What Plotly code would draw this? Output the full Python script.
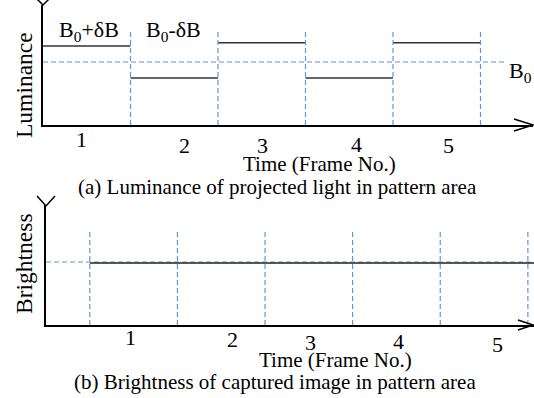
import plotly.graph_objects as go

# ---------------- data ----------------
frames = [1, 2, 3, 4, 5]
frame_labels = ["1", "2", "3", "4", "5"]
# (a) projected luminance per frame (normalised axis units)
lum_levels = [0.658, 0.392, 0.686, 0.392, 0.686]
lum_base = 0.525            # B0
lum_boundaries = [1, 2, 3, 4, 5]
# (b) captured brightness
bri_level = 0.517
bri_base = 0.525
bri_boundaries = [0.5, 1.5, 2.5, 3.5, 4.5, 5.5]

W, H = 534, 398
FONT = "Liberation Serif"
BLUE = "#5B9BD5"
DASH = "5px,3px"

def px(x):
    return x / W

def py(y):
    return 1 - y / H

fig = go.Figure()

# ---- panel (a) ----
for i, lv in enumerate(lum_levels):
    fig.add_trace(go.Scatter(x=[frames[i] - 1, frames[i]], y=[lv, lv], mode="lines",
                             line=dict(color="#333333", width=1.6), xaxis="x", yaxis="y",
                             showlegend=False, hoverinfo="skip"))
for b in lum_boundaries:
    fig.add_trace(go.Scatter(x=[b, b], y=[0, 0.79], mode="lines",
                             line=dict(color=BLUE, width=1.2, dash=DASH), xaxis="x", yaxis="y",
                             showlegend=False, hoverinfo="skip"))
fig.add_trace(go.Scatter(x=[0, 5.27], y=[lum_base, lum_base], mode="lines",
                         line=dict(color=BLUE, width=1.2, dash=DASH), xaxis="x", yaxis="y",
                         showlegend=False, hoverinfo="skip"))

# ---- panel (b) ----
for b in bri_boundaries:
    fig.add_trace(go.Scatter(x=[b, b], y=[0, 0.8], mode="lines",
                             line=dict(color=BLUE, width=1.2, dash=DASH), xaxis="x2", yaxis="y2",
                             showlegend=False, hoverinfo="skip"))
fig.add_trace(go.Scatter(x=[0, 5.53], y=[bri_base, bri_base], mode="lines",
                         line=dict(color=BLUE, width=1.2, dash=DASH), xaxis="x2", yaxis="y2",
                         showlegend=False, hoverinfo="skip"))
fig.add_trace(go.Scatter(x=[bri_boundaries[0], 5.57], y=[bri_level, bri_level], mode="lines",
                         line=dict(color="#222222", width=1.4), xaxis="x2", yaxis="y2",
                         showlegend=False, hoverinfo="skip"))

axis_common = dict(showgrid=False, zeroline=False, showticklabels=False, ticks="",
                   showline=True, linecolor="black")

fig.update_layout(
    width=W, height=H, autosize=False,
    margin=dict(l=0, r=0, t=0, b=0),
    paper_bgcolor="white", plot_bgcolor="white",
    font=dict(family=FONT, size=21, color="black"),
    xaxis=dict(domain=[px(43), px(533)], range=[0, 5.6], anchor="y", linewidth=1.5, **axis_common),
    yaxis=dict(domain=[py(125), py(5)], range=[0, 1], anchor="x", linewidth=2, **axis_common),
    xaxis2=dict(domain=[px(46), px(534)], range=[0, 5.57], anchor="y2", linewidth=1.5, **axis_common),
    yaxis2=dict(domain=[py(325), py(205)], range=[0, 1], anchor="x2", linewidth=2, **axis_common),
)

# arrow heads (open chevrons), pixel-sized paths (y grows downward)
def chevron(xa, ya, path):
    fig.add_shape(type="path", xref="paper", yref="paper", xsizemode="pixel", ysizemode="pixel",
                  xanchor=px(xa), yanchor=py(ya), path=path, line=dict(color="black", width=1.5))

chevron(533, 125, "M -19,-6 L 0,0 L -19,6")
chevron(43, 5, "M -10,10 L 0,0 L 10,10")
chevron(533, 325, "M -15,-5 L 0,0 L -15,5")
chevron(46, 206, "M -9,10 L 0,0 L 9,10")

def text(t, x, y, size=21, angle=0, xanchor="center"):
    fig.add_annotation(text=t, x=px(x), y=py(y), xref="paper", yref="paper",
                       showarrow=False, font=dict(family=FONT, size=size, color="black"),
                       textangle=angle, xanchor=xanchor, yanchor="middle")

# panel (a) texts
text("B<sub>0</sub>+δB", 89, 31, size=22)
text("B<sub>0</sub>-δB", 173, 31, size=22)
text("B<sub>0</sub>", 520, 72, size=22)
text("Luminance", 24, 85, size=23.5, angle=-90)
top_num_pos = [(82, 139), (184, 145), (262, 145), (356, 144), (448, 146)]
for lab, (x, y) in zip(frame_labels, top_num_pos):
    text(lab, x, y, size=22)
text("Time (Frame No.)", 319, 164)
text("(a) Luminance of projected light in pattern area", 277, 187)

# panel (b) texts
text("Brightness", 24, 264, size=23.5, angle=-90)
bot_num_pos = [(130, 337), (232, 339), (310, 342), (398, 341), (497, 344)]
for lab, (x, y) in zip(frame_labels, bot_num_pos):
    text(lab, x, y, size=22)
text("Time (Frame No.)", 335, 360)
text("(b) Brightness of captured image in pattern area", 275, 382)

fig.write_html("out.html", config={"displayModeBar": False},
               post_script="document.body.style.margin='0';"
                           "document.documentElement.style.overflow='hidden';")
